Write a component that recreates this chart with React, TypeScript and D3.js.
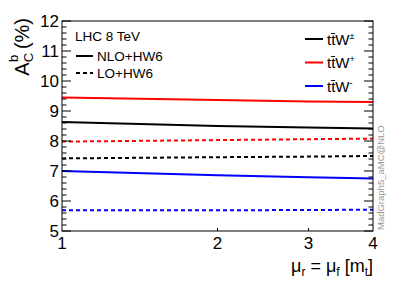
import React from "react";
import { scaleLog, scaleLinear, line, range } from "d3";

// mu_r = mu_f in units of m_t
const scales = [1, 2, 3, 4];

// A_C^b (%) for each sample
const nloAll = [8.63, 8.50, 8.45, 8.42];
const nloPlus = [9.45, 9.37, 9.32, 9.30];
const nloMinus = [7.0, 6.86, 6.79, 6.75];
const loAll = [7.42, 7.46, 7.48, 7.50];
const loPlus = [7.98, 8.03, 8.06, 8.08];
const loMinus = [5.69, 5.69, 5.70, 5.71];

const yTicks = [5, 6, 7, 8, 9, 10, 11, 12];
const xTicks = [1, 2, 3, 4];

const series = [
  { values: nloAll, color: "#000", dashed: false },
  { values: nloPlus, color: "#ff0000", dashed: false },
  { values: nloMinus, color: "#0000ff", dashed: false },
  { values: loAll, color: "#000", dashed: true },
  { values: loPlus, color: "#ff0000", dashed: true },
  { values: loMinus, color: "#0000ff", dashed: true },
];

const legendRight = [
  { label: "\u00b1", color: "#000" },
  { label: "+", color: "#ff0000" },
  { label: "-", color: "#0000ff" },
];

export default function App() {
  const left = 62, right = 373, top = 21, bottom = 231;
  const x = scaleLog().domain([1, 4]).range([left, right]);
  const y = scaleLinear().domain([5, 12]).range([bottom, top]);
  const minor = range(5, 12.001, 0.2);
  const font = "'Liberation Sans', Arial, sans-serif";

  const path = line<number>()
    .x((_, i) => x(scales[i]))
    .y((d) => y(d));

  return (
    <svg
      width={415}
      height={281}
      style={{ position: "absolute", left: 0, top: 0, background: "#fff" }}
      fontFamily={font}
    >
      <rect x={0} y={0} width={415} height={281} fill="#fff" />

      {series.map((s, i) => (
        <path
          key={i}
          d={path(s.values) || ""}
          fill="none"
          stroke={s.color}
          strokeWidth={2}
          strokeDasharray={s.dashed ? "4,3" : undefined}
        />
      ))}

      {/* frame */}
      <rect x={left} y={top} width={right - left} height={bottom - top} fill="none" stroke="#000" strokeWidth={1} />

      {/* y ticks, left and right */}
      {minor.map((v, i) => {
        const major = Math.abs(v - Math.round(v)) < 1e-6;
        const len = major ? 9 : 4.5;
        return (
          <g key={i}>
            <line x1={left} x2={left + len} y1={y(v)} y2={y(v)} stroke="#000" />
            <line x1={right} x2={right - len} y1={y(v)} y2={y(v)} stroke="#000" />
          </g>
        );
      })}
      {yTicks.map((v) => (
        <text key={v} x={left - 3} y={y(v)} dy="0.35em" textAnchor="end" fontSize={17}>
          {v}
        </text>
      ))}

      {/* x ticks */}
      {xTicks.map((v) => (
        <g key={v}>
          {v > 1 && v < 4 && <line x1={x(v)} x2={x(v)} y1={bottom} y2={bottom - 3} stroke="#000" />}
          <text x={x(v)} y={bottom + 18} textAnchor="middle" fontSize={17}>
            {v}
          </text>
        </g>
      ))}

      {/* axis titles */}
      <text x={right} y={272} textAnchor="end" fontSize={18}>
        μ<tspan fontSize={12} dy={4}>r</tspan>
        <tspan dy={-4}> = μ</tspan>
        <tspan fontSize={12} dy={4}>f</tspan>
        <tspan dy={-4}> [m</tspan>
        <tspan fontSize={12} dy={4}>t</tspan>
        <tspan dy={-4}>]</tspan>
      </text>
      <text transform={`translate(29,${top - 3}) rotate(-90)`} textAnchor="end" fontSize={20}>
        A<tspan fontSize={13} dy={4}>C</tspan>
        <tspan fontSize={13} dx={-9} dy={-15}>b</tspan>
        <tspan dy={11}> (%)</tspan>
      </text>

      {/* left legend */}
      <text x={75} y={41} fontSize={13.5}>LHC 8 TeV</text>
      <line x1={76} x2={93} y1={56} y2={56} stroke="#000" strokeWidth={2} />
      <text x={97} y={56} dy="0.35em" fontSize={13.5}>NLO+HW6</text>
      <line x1={76} x2={93} y1={73} y2={73} stroke="#000" strokeWidth={2} strokeDasharray="4,3" />
      <text x={97} y={73} dy="0.35em" fontSize={13.5}>LO+HW6</text>

      {/* right legend */}
      {legendRight.map((d, i) => {
        const ly = 39 + i * 23.5;
        return (
          <g key={i}>
            <line x1={305} x2={323} y1={ly} y2={ly} stroke={d.color} strokeWidth={2} />
            <text x={327} y={ly} dy="0.38em" fontSize={15}>
              tt{"\u0304"}W<tspan fontSize={9} dy={-6}>{d.label}</tspan>
            </text>
          </g>
        );
      })}

      {/* watermark */}
      <text transform={`translate(384,${bottom - 1}) rotate(-90)`} fontSize={9.5} fill="#999">
        MadGraph5_aMC@NLO
      </text>
    </svg>
  );
}
